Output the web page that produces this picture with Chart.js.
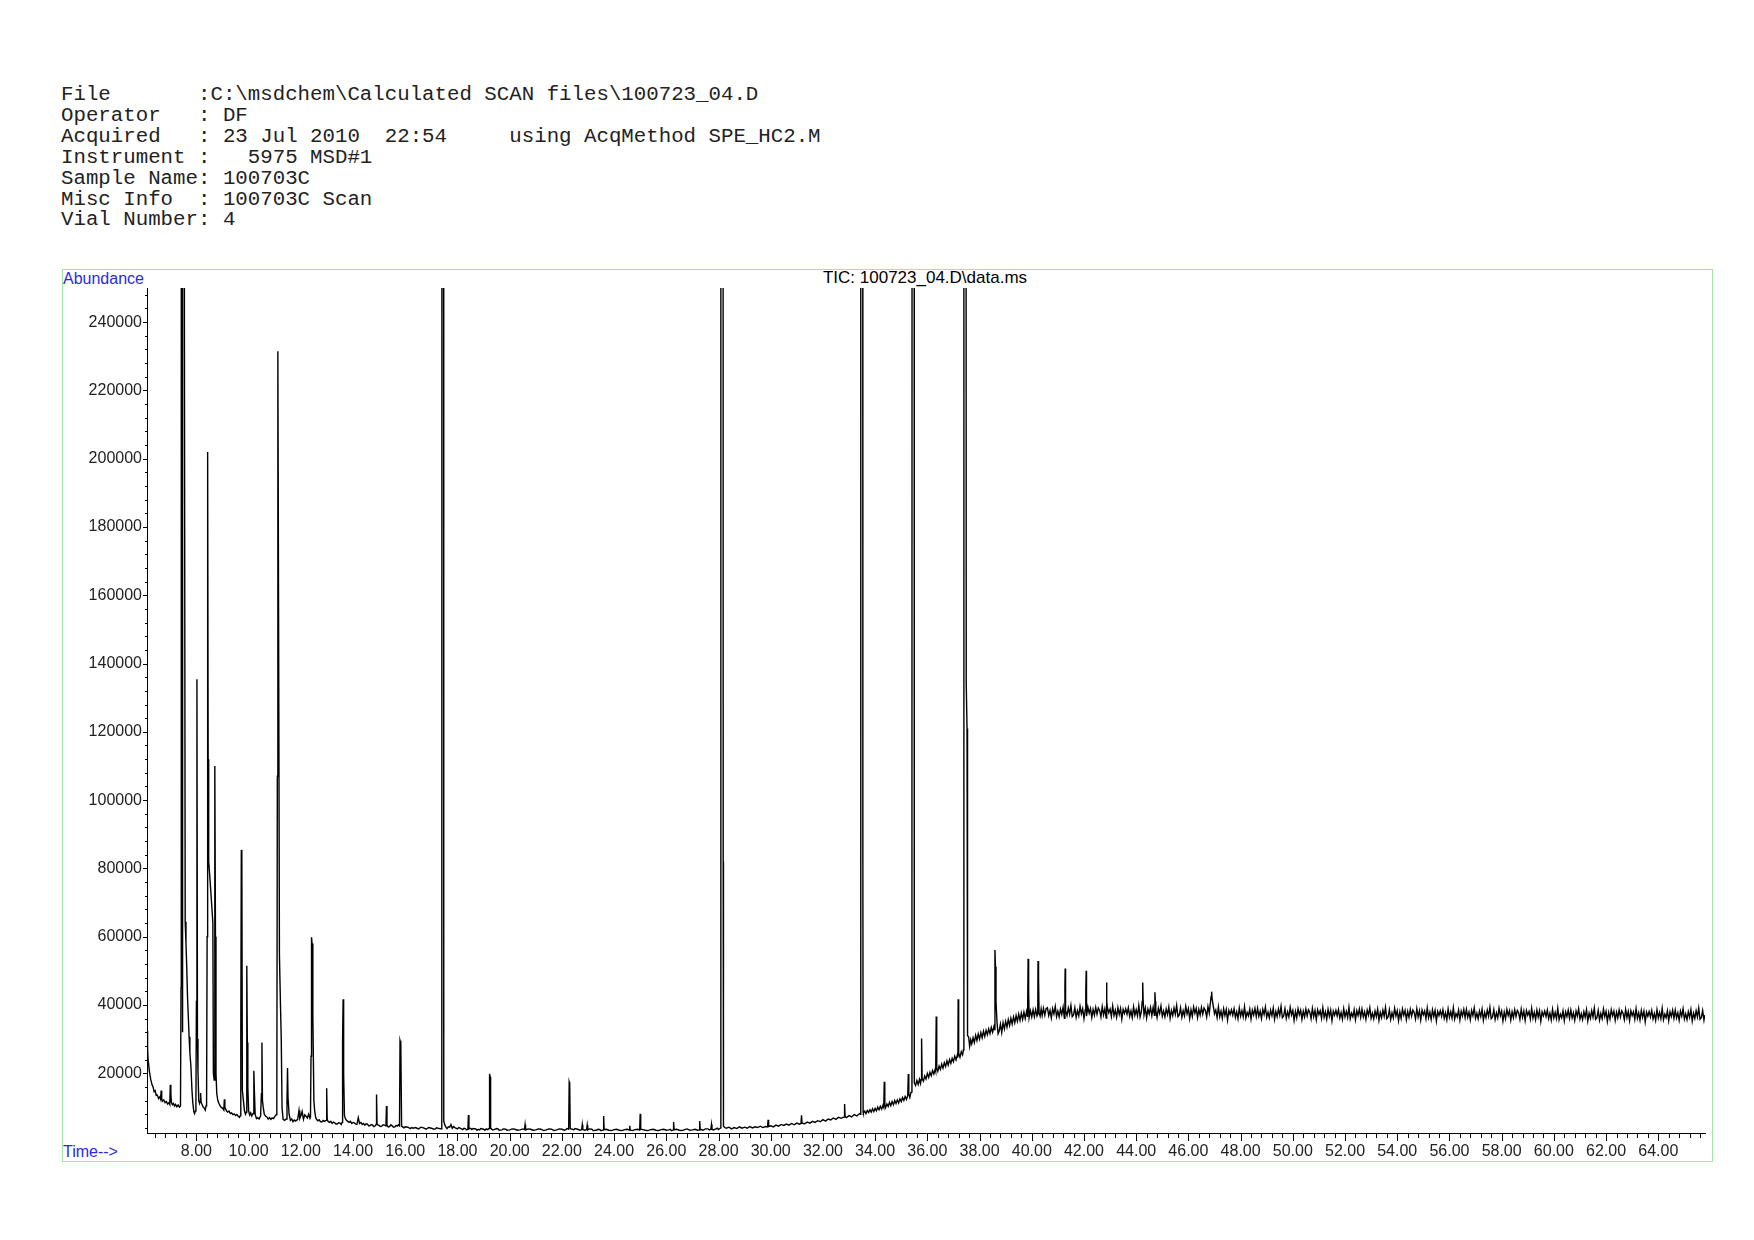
<!DOCTYPE html>
<html>
<head>
<meta charset="utf-8">
<script src="https://cdn.jsdelivr.net/npm/chart.js@4.4.1/dist/chart.umd.min.js"></script>
<style>
  html, body { margin: 0; padding: 0; background: #fff; }
  #page { position: relative; width: 1754px; height: 1240px; overflow: hidden; }
  #header { position: absolute; left: 61px; top: 85px; margin: 0; font-family: 'Liberation Mono', monospace; font-size: 20.75px; line-height: 20.9px; color: #222; }
  #frame { position: absolute; left: 62px; top: 269px; width: 1651px; height: 893px; border: 1px solid #a6e3a6; box-sizing: border-box; }
  .lbl { position: absolute; font-family: 'Liberation Sans', Arial, sans-serif; font-size: 16px; line-height: 18px; white-space: pre; }
  #abund { left: 63px; top: 270px; color: #2b2bd9; }
  #timeLbl { left: 63px; top: 1143px; color: #2b2bd9; }
  #tic { left: 925px; top: 269px; transform: translateX(-50%); color: #000; font-size: 17px; }
  canvas { position: absolute; left: 0; top: 0; }
</style>
</head>
<body>
<div id="page">
  <pre id="header"></pre>
  <div id="frame"></div>
  <div class="lbl" id="abund">Abundance</div>
  <div class="lbl" id="tic">TIC: 100723_04.D\data.ms</div>
  <div class="lbl" id="timeLbl">Time--&gt;</div>
  <canvas id="tic-chart" width="1754" height="1240"></canvas>
</div>
<script>
const headerLines = [
  'File       :C:\\msdchem\\Calculated SCAN files\\100723_04.D',
  'Operator   : DF',
  'Acquired   : 23 Jul 2010  22:54     using AcqMethod SPE_HC2.M',
  'Instrument :   5975 MSD#1',
  'Sample Name: 100703C',
  'Misc Info  : 100703C Scan',
  'Vial Number: 4'
];

// time (min), abundance
const earlyTrace = [
  [6.11, 32400], [6.13, 27000], [6.15, 23900], [6.2, 20500], [6.25, 18200], [6.3, 16600], [6.34, 16000],
  [6.38, 14600], [6.42, 14900], [6.46, 13500], [6.5, 13600], [6.55, 12600], [6.6, 13100], [6.63, 12400],
  [6.65, 14900], [6.67, 12600], [6.7, 11800], [6.75, 12200], [6.8, 11400], [6.85, 11700], [6.9, 11000],
  [6.95, 11400], [6.98, 10900], [7.0, 16600], [7.02, 14200], [7.04, 11500], [7.08, 10800], [7.12, 11200],
  [7.16, 10400], [7.2, 10900], [7.25, 10200], [7.3, 10700], [7.35, 10100], [7.39, 10400],
  [7.41, 45000], [7.42, 600000], [7.455, 600000], [7.465, 32000], [7.475, 600000], [7.53, 600000],
  [7.54, 240000], [7.57, 64400], [7.6, 58000], [7.63, 51000], [7.66, 42000], [7.69, 36500], [7.72, 30700],
  [7.75, 26000], [7.79, 21900], [7.83, 15000], [7.86, 11500], [7.9, 8800], [7.93, 8200], [7.96, 8900],
  [7.98, 9200], [8.0, 41000], [8.02, 135400], [8.04, 30000], [8.06, 20500], [8.09, 12000], [8.12, 11200],
  [8.14, 11800], [8.16, 14200], [8.18, 11500], [8.22, 10800], [8.26, 10100], [8.3, 9800], [8.34, 9200],
  [8.37, 10500], [8.39, 11500], [8.41, 60000], [8.43, 202000], [8.45, 112000], [8.47, 82000], [8.5, 79000],
  [8.53, 75700], [8.58, 70000], [8.63, 64000], [8.65, 20000], [8.68, 18000], [8.7, 40000], [8.71, 110000],
  [8.73, 60000], [8.75, 20000], [8.78, 14000], [8.82, 12000], [8.86, 11200], [8.9, 10600], [8.95, 10000],
  [9.0, 9800], [9.05, 9200], [9.07, 12400], [9.09, 10000], [9.15, 9000], [9.2, 8600], [9.25, 8900],
  [9.3, 8200], [9.35, 8400], [9.4, 7900], [9.45, 8100], [9.5, 7600], [9.55, 7900], [9.6, 7400], [9.65, 7100],
  [9.68, 7600], [9.7, 30000], [9.72, 85400], [9.74, 84500], [9.76, 15000], [9.8, 12000], [9.84, 9000],
  [9.88, 8000], [9.91, 8600], [9.93, 51500], [9.95, 29000], [9.97, 16000], [10.0, 9000], [10.04, 7800],
  [10.08, 8400], [10.12, 7500], [10.17, 8200], [10.2, 20700], [10.22, 15000], [10.25, 8000], [10.3, 6700],
  [10.35, 7000], [10.4, 6600], [10.46, 7500], [10.49, 14000], [10.51, 29000], [10.53, 12000], [10.56, 10000],
  [10.6, 8000], [10.65, 7400], [10.7, 7200], [10.75, 6600], [10.8, 7000], [10.85, 6500], [10.9, 6900],
  [10.95, 6700], [11.0, 7300], [11.05, 7800], [11.08, 8000], [11.1, 107000], [11.12, 231500], [11.15, 147000],
  [11.18, 54600], [11.22, 40000], [11.25, 30000], [11.28, 10000], [11.32, 6500], [11.38, 6200], [11.44, 6600],
  [11.47, 12000], [11.49, 21500], [11.51, 12800], [11.55, 8000], [11.6, 6200], [11.65, 6600], [11.7, 5800],
  [11.75, 6300], [11.8, 6000], [11.88, 6500], [11.93, 9100], [11.96, 6800], [12.0, 7500], [12.05, 8800],
  [12.1, 6500], [12.15, 7800], [12.2, 7400], [12.25, 6900], [12.3, 8000], [12.35, 6800], [12.37, 7200],
  [12.39, 25000], [12.41, 59800], [12.43, 58000], [12.46, 37000], [12.5, 12000], [12.53, 9000], [12.57, 7000],
  [12.6, 6500], [12.65, 6100], [12.7, 6400], [12.75, 5800], [12.8, 5700], [12.85, 6200], [12.9, 5900],
  [12.97, 6200], [12.99, 15600], [13.01, 6500], [13.05, 5800], [13.1, 5600], [13.15, 5900], [13.2, 5300],
  [13.25, 5700], [13.3, 5500], [13.35, 5100], [13.4, 5200], [13.45, 5500], [13.5, 5400], [13.55, 5000],
  [13.58, 5600], [13.6, 30000], [13.62, 41700], [13.64, 20000], [13.67, 7700], [13.7, 6800], [13.75, 6200],
  [13.8, 5900], [13.85, 5600], [13.9, 5900], [13.95, 5300], [14.0, 5600], [14.05, 5500], [14.1, 5100],
  [14.15, 5000], [14.2, 7000], [14.25, 5300], [14.3, 5600], [14.35, 5000], [14.4, 5300], [14.45, 4800],
  [14.5, 5200], [14.55, 5100], [14.6, 4600], [14.65, 4700], [14.7, 5000], [14.75, 4800], [14.8, 4400],
  [14.85, 4600], [14.88, 5000], [14.9, 13800], [14.92, 5200], [14.96, 4800], [15.0, 4700], [15.05, 4400],
  [15.1, 4500], [15.15, 4900], [15.2, 4800], [15.26, 4600], [15.28, 10400], [15.3, 4800], [15.35, 4300],
  [15.4, 4400], [15.45, 4900], [15.5, 4600], [15.55, 4200], [15.6, 4300], [15.65, 4700], [15.7, 4500],
  [15.74, 4900], [15.78, 4600], [15.8, 29500], [15.83, 28500], [15.86, 4500], [15.9, 4300], [15.95, 4000],
  [16.0, 4300], [16.1, 4200], [16.2, 3800], [16.25, 4100], [16.3, 3900], [16.4, 4100], [16.5, 3700],
  [16.55, 3900], [16.6, 4200], [16.7, 4000], [16.8, 3600], [16.85, 3900], [16.9, 4100], [17.0, 3900],
  [17.1, 3600], [17.15, 3700], [17.2, 4000], [17.3, 3800], [17.38, 3700]
];

const midTrace = [
  [17.4, 9000], [17.41, 600000], [17.46, 600000], [17.47, 82000], [17.48, 6000], [17.52, 4800], [17.56, 4200],
  [17.6, 3800], [17.65, 4300], [17.7, 4200], [17.75, 5000], [17.8, 3900], [17.85, 4400], [17.9, 4100],
  [18.0, 3700], [18.05, 4100], [18.1, 3900], [18.2, 3500], [18.25, 3900], [18.3, 3800], [18.35, 3400],
  [18.4, 3600], [18.42, 7800], [18.44, 3700], [18.5, 3900], [18.55, 3500], [18.6, 3800], [18.7, 3700],
  [18.75, 3300], [18.8, 3600], [18.85, 3400], [18.9, 3800], [19.0, 3600], [19.05, 3300], [19.1, 3700],
  [19.15, 3500], [19.21, 3800], [19.23, 19800], [19.25, 19000], [19.27, 4000], [19.3, 3700], [19.35, 3400],
  [19.4, 3500], [19.5, 3800], [19.55, 3700], [19.6, 3300], [19.7, 3400], [19.75, 3700], [19.85, 3600],
  [19.9, 3300], [20.0, 3400], [20.1, 3700], [20.2, 3600], [20.3, 3300], [20.4, 3400], [20.5, 3700],
  [20.57, 3500], [20.59, 4900], [20.61, 3400], [20.7, 3700], [20.8, 3600], [20.9, 3300], [21.0, 3400],
  [21.1, 3700], [21.2, 3600], [21.3, 3200], [21.4, 3400], [21.5, 3700], [21.6, 3600], [21.7, 3200],
  [21.8, 3400], [21.9, 3700], [22.0, 3600], [22.1, 3300], [22.15, 3500], [22.2, 3800], [22.26, 3600],
  [22.28, 17400], [22.3, 16800], [22.32, 3800], [22.4, 3600], [22.45, 3400], [22.5, 3800], [22.6, 3600],
  [22.7, 3300], [22.76, 3500], [22.78, 4900], [22.8, 3500], [22.88, 3300], [22.95, 3500], [22.97, 4800],
  [22.99, 3400], [23.05, 3700], [23.15, 3600], [23.2, 3200], [23.3, 3300], [23.4, 3600], [23.45, 3500],
  [23.5, 3200], [23.58, 3400], [23.6, 7500], [23.62, 3500], [23.7, 3600], [23.8, 3300], [23.9, 3200],
  [24.0, 3500], [24.1, 3600], [24.2, 3300], [24.3, 3200], [24.4, 3500], [24.5, 3600], [24.58, 3400],
  [24.6, 4600], [24.62, 3300], [24.7, 3200], [24.8, 3500], [24.9, 3600], [24.98, 3400], [25.0, 8100],
  [25.02, 3600], [25.1, 3500], [25.2, 3300], [25.3, 3200], [25.4, 3500], [25.5, 3600], [25.6, 3300],
  [25.7, 3200], [25.8, 3500], [25.9, 3600], [26.0, 3300], [26.1, 3400], [26.15, 3600], [26.2, 3200],
  [26.26, 3400], [26.28, 5700], [26.3, 3500], [26.4, 3600], [26.5, 3300], [26.6, 3200], [26.7, 3500],
  [26.8, 3700], [26.9, 3300], [27.0, 3400], [27.1, 3600], [27.2, 3300], [27.26, 3400], [27.28, 6000],
  [27.3, 3600], [27.4, 3300], [27.45, 3500], [27.5, 3700], [27.6, 3700], [27.65, 3400], [27.71, 3600],
  [27.73, 5000], [27.75, 3600], [27.8, 3400], [27.9, 3700], [27.95, 3900], [28.0, 3500], [28.05, 3800],
  [28.08, 4000], [28.09, 600000], [28.17, 600000], [28.18, 82000], [28.19, 4500], [28.24, 4100]
];

const riseTrace = [
  [28.3, 3900], [28.4, 4200], [28.5, 3700], [28.6, 4100], [28.7, 3800], [28.8, 4300], [28.9, 3900],
  [29.0, 4200], [29.1, 3900], [29.2, 4400], [29.3, 4000], [29.4, 4300], [29.5, 4100], [29.6, 4500],
  [29.7, 4100], [29.8, 4400], [29.88, 4300], [29.9, 6400], [29.92, 4400], [30.0, 4600], [30.1, 4300],
  [30.2, 4800], [30.3, 4500], [30.4, 5000], [30.5, 4700], [30.6, 5100], [30.7, 4800], [30.8, 5300],
  [30.9, 4900], [31.0, 5400], [31.1, 5100], [31.16, 5300], [31.18, 7700], [31.2, 5400], [31.3, 5200],
  [31.4, 5700], [31.5, 5400], [31.6, 5900], [31.7, 5600], [31.8, 6100], [31.9, 5800], [32.0, 6400],
  [32.1, 6000], [32.2, 6600], [32.3, 6300], [32.4, 6900], [32.5, 6500], [32.6, 7100], [32.7, 6800],
  [32.81, 7200], [32.83, 11000], [32.85, 7300], [32.9, 7000], [33.0, 7600], [33.1, 7200], [33.2, 7900],
  [33.3, 7500], [33.4, 8200], [33.44, 8000], [33.45, 600000], [33.52, 600000], [33.53, 82000], [33.54, 8600],
  [33.55, 8300], [33.6, 8900], [33.65, 8200], [33.7, 9100], [33.75, 8500], [33.8, 9300], [33.85, 8600],
  [33.9, 9600], [33.95, 8800], [34.0, 9700], [34.05, 9000], [34.1, 10100], [34.15, 9300], [34.2, 10300],
  [34.25, 9500], [34.3, 10600], [34.33, 10000], [34.35, 17500], [34.37, 10700], [34.4, 9900], [34.45, 11000],
  [34.5, 10300], [34.55, 11500], [34.6, 10500], [34.65, 11700], [34.7, 10800], [34.75, 12000], [34.8, 11100],
  [34.85, 12200], [34.9, 11300], [34.95, 12500], [35.0, 11700], [35.05, 12900], [35.1, 12000], [35.15, 13200],
  [35.2, 12300], [35.25, 13500], [35.27, 19800], [35.29, 13900], [35.33, 12900], [35.37, 14300], [35.4, 14500],
  [35.41, 85000], [35.42, 600000], [35.49, 600000], [35.5, 17200], [35.55, 16400], [35.6, 17900], [35.65, 16700],
  [35.7, 18200], [35.74, 17000], [35.76, 18100], [35.78, 30200], [35.8, 18500], [35.85, 17700], [35.9, 19200],
  [35.95, 18300], [36.0, 19900], [36.05, 18800], [36.1, 20300], [36.15, 19300], [36.2, 20800], [36.25, 19800],
  [36.3, 21200], [36.32, 20600], [36.34, 36600], [36.36, 21500], [36.4, 20600], [36.45, 22100], [36.5, 21100],
  [36.55, 22700], [36.6, 21500], [36.65, 23100], [36.7, 22000], [36.75, 23600], [36.8, 22400], [36.85, 24000],
  [36.9, 22900], [36.95, 24400], [37.0, 23400], [37.05, 25000], [37.1, 23900], [37.15, 25400], [37.17, 24600],
  [37.18, 41700], [37.19, 39500], [37.21, 25900], [37.25, 24700], [37.3, 26300], [37.35, 25400], [37.38, 26800],
  [37.4, 600000], [37.47, 600000], [37.49, 134000], [37.52, 121000], [37.54, 31000], [37.58, 30700],
  [37.62, 27900], [37.66, 29800], [37.7, 28600], [37.75, 30400], [37.8, 29000], [37.85, 31100], [37.9, 29600],
  [37.95, 31500], [38.0, 30000], [38.05, 31900], [38.1, 30400], [38.15, 32300], [38.2, 30800], [38.25, 32600],
  [38.3, 31300], [38.35, 33000], [38.4, 31600], [38.45, 33400], [38.5, 32000], [38.55, 33600], [38.57, 32800],
  [38.59, 56100], [38.61, 51200], [38.63, 41000], [38.67, 34700], [38.71, 31600], [38.75, 32300], [38.8, 34400],
  [38.85, 31900], [38.9, 34800], [38.95, 33000], [39.0, 35200], [39.05, 33500], [39.1, 35700], [39.15, 34000],
  [39.2, 36100], [39.25, 34400], [39.3, 36500], [39.35, 34800], [39.4, 36900], [39.45, 35200], [39.5, 37300],
  [39.55, 35500], [39.6, 37600], [39.65, 35800], [39.7, 37900], [39.75, 36000], [39.8, 38100], [39.84, 36500],
  [39.86, 53500], [39.88, 44000], [39.9, 36400], [39.95, 38300], [40.0, 36500], [40.05, 38600], [40.1, 36600],
  [40.15, 38700], [40.2, 36800], [40.23, 37400], [40.24, 52900], [40.26, 47800], [40.28, 37600], [40.32, 36700],
  [40.36, 38900], [40.4, 36900], [40.45, 39000], [40.5, 37000], [40.55, 38900]
];

const plateauTrace = [
  [40.6, 39200], [40.65, 36900], [40.7, 38400], [40.75, 36200], [40.8, 38900], [40.85, 37400], [40.9, 39600], [40.95, 36600],
  [41.0, 38200], [41.05, 36500], [41.1, 38800], [41.15, 37200], [41.2, 39400], [41.25, 36100], [41.27, 45000], [41.28, 50700],
  [41.29, 44000], [41.3, 38400], [41.35, 36900], [41.4, 39100], [41.45, 37300], [41.5, 39900], [41.55, 36600], [41.6, 37100],
  [41.65, 39200], [41.7, 36400], [41.75, 38300], [41.8, 36800], [41.85, 39600], [41.9, 37400], [41.95, 38900],
  [42.0, 36000], [42.05, 38600], [42.07, 44000], [42.085, 50000], [42.095, 42000], [42.1, 36700], [42.15, 39400], [42.2, 37600],
  [42.25, 39000], [42.3, 36300], [42.35, 38700], [42.4, 37000], [42.45, 39300], [42.5, 37300], [42.55, 39100], [42.6, 38400],
  [42.65, 36500], [42.7, 39500], [42.75, 37100], [42.8, 38900], [42.85, 36200], [42.865, 40000], [42.87, 46600], [42.88, 41000],
  [42.9, 39100], [42.95, 37700],
  [43.0, 38800], [43.05, 36600], [43.1, 39700], [43.15, 36900], [43.2, 38500], [43.25, 36400], [43.3, 39200], [43.35, 37200],
  [43.4, 39000], [43.45, 35900], [43.5, 38700], [43.55, 37500], [43.6, 38900], [43.65, 37300], [43.7, 39200], [43.75, 36700],
  [43.8, 38300], [43.85, 36300], [43.9, 39400], [43.95, 37000],
  [44.0, 38600], [44.05, 36800], [44.1, 39800], [44.15, 36500], [44.2, 38100], [44.23, 41000], [44.25, 46600], [44.265, 41500],
  [44.3, 37100], [44.35, 39100], [44.4, 36200], [44.45, 38800], [44.5, 37400], [44.55, 39300], [44.6, 36900], [44.65, 39300],
  [44.7, 37000], [44.715, 40000], [44.72, 43700], [44.735, 41000], [44.75, 38500], [44.8, 36300], [44.85, 39000], [44.9, 37500],
  [44.95, 39700],
  [45.0, 36700], [45.05, 38200], [45.1, 36500], [45.15, 38800], [45.2, 37200], [45.25, 39400], [45.3, 36100], [45.35, 38400],
  [45.4, 36900], [45.45, 39100], [45.5, 37300], [45.55, 39900], [45.6, 36600], [45.65, 37100], [45.7, 39200], [45.75, 36400],
  [45.8, 38300], [45.85, 36800], [45.9, 39600], [45.95, 37400],
  [46.0, 38900], [46.05, 36000], [46.1, 38600], [46.15, 36700], [46.2, 39400], [46.25, 37600], [46.3, 39000], [46.35, 36300],
  [46.4, 38700], [46.45, 37000], [46.5, 39300], [46.55, 37300], [46.6, 39100], [46.65, 38400], [46.7, 36500], [46.75, 39500],
  [46.8, 37600], [46.84, 40500], [46.87, 42500], [46.89, 43900], [46.91, 41800], [46.95, 39800],
  [47.0, 37400], [47.05, 38500], [47.1, 36300], [47.15, 39400], [47.2, 36600], [47.25, 38200], [47.3, 36100], [47.35, 38900],
  [47.4, 36900], [47.45, 38700], [47.5, 35600], [47.55, 38400], [47.6, 37200], [47.65, 38600], [47.7, 37000], [47.75, 38900],
  [47.8, 36400], [47.85, 38000], [47.9, 36000], [47.95, 39100],
  [48.0, 36700], [48.05, 38300], [48.1, 36500], [48.15, 39500], [48.2, 36200], [48.25, 37800], [48.3, 36800], [48.35, 38800],
  [48.4, 35900], [48.45, 38500], [48.5, 37100], [48.55, 39000], [48.6, 36600], [48.65, 39000], [48.7, 36700], [48.75, 38200],
  [48.8, 36000], [48.85, 38700], [48.9, 37200], [48.95, 39400],
  [49.0, 36400], [49.05, 37900], [49.1, 36200], [49.15, 38500], [49.2, 36900], [49.25, 39100], [49.3, 35800], [49.35, 38100],
  [49.4, 36600], [49.45, 38800], [49.5, 37000], [49.55, 39600], [49.6, 36300], [49.65, 36800], [49.7, 38900], [49.75, 36100],
  [49.8, 38000], [49.85, 36500], [49.9, 39300], [49.95, 37100],
  [50.0, 38400], [50.05, 35500], [50.1, 38100], [50.15, 36200], [50.2, 38900], [50.25, 37100], [50.3, 38500], [50.35, 35800],
  [50.4, 38200], [50.45, 36500], [50.5, 38800], [50.55, 36800], [50.6, 38600], [50.65, 37900], [50.7, 36000], [50.75, 39000],
  [50.8, 36600], [50.85, 38400], [50.9, 35700], [50.95, 38600],
  [51.0, 37200], [51.05, 38300], [51.1, 36100], [51.15, 39200], [51.2, 36400], [51.25, 38000], [51.3, 35900], [51.35, 38700],
  [51.4, 36700], [51.45, 38500], [51.5, 35400], [51.55, 38200], [51.6, 37000], [51.65, 38400], [51.7, 36800], [51.75, 38700],
  [51.8, 36200], [51.85, 37800], [51.9, 35800], [51.95, 38900],
  [52.0, 36500], [52.05, 38100], [52.1, 36300], [52.15, 39300], [52.2, 36000], [52.25, 37600], [52.3, 36600], [52.35, 38600],
  [52.4, 35700], [52.45, 38300], [52.5, 36900], [52.55, 38800], [52.6, 36400], [52.65, 38800], [52.7, 36500], [52.75, 38000],
  [52.8, 35800], [52.85, 38500], [52.9, 37000], [52.95, 39200],
  [53.0, 36100], [53.05, 37600], [53.1, 35900], [53.15, 38200], [53.2, 36600], [53.25, 38800], [53.3, 35500], [53.35, 37800],
  [53.4, 36300], [53.45, 38500], [53.5, 36700], [53.55, 39300], [53.6, 36000], [53.65, 36500], [53.7, 38600], [53.75, 35800],
  [53.8, 37700], [53.85, 36200], [53.9, 39000], [53.95, 36800],
  [54.0, 38300], [54.05, 35400], [54.1, 38000], [54.15, 36100], [54.2, 38800], [54.25, 37000], [54.3, 38400], [54.35, 35700],
  [54.4, 38100], [54.45, 36400], [54.5, 38700], [54.55, 36700], [54.6, 38500], [54.65, 37800], [54.7, 35900], [54.75, 38900],
  [54.8, 36500], [54.85, 38300], [54.9, 35600], [54.95, 38500],
  [55.0, 37100], [55.05, 38200], [55.1, 36000], [55.15, 39100], [55.2, 36300], [55.25, 37900], [55.3, 35800], [55.35, 38600],
  [55.4, 36600], [55.45, 38400], [55.5, 35300], [55.55, 38100], [55.6, 36900], [55.65, 38300], [55.7, 36700], [55.75, 38600],
  [55.8, 36100], [55.85, 37700], [55.9, 35700], [55.95, 38800],
  [56.0, 36400], [56.05, 38000], [56.1, 36200], [56.15, 39200], [56.2, 35900], [56.25, 37500], [56.3, 36500], [56.35, 38500],
  [56.4, 35600], [56.45, 38200], [56.5, 36800], [56.55, 38700], [56.6, 36300], [56.65, 38700], [56.7, 36400], [56.75, 37900],
  [56.8, 35700], [56.85, 38400], [56.9, 36900], [56.95, 39100],
  [57.0, 36100], [57.05, 37600], [57.1, 35900], [57.15, 38200], [57.2, 36600], [57.25, 38800], [57.3, 35500], [57.35, 37800],
  [57.4, 36300], [57.45, 38500], [57.5, 36700], [57.55, 39300], [57.6, 36000], [57.65, 36500], [57.7, 38600], [57.75, 35800],
  [57.8, 37700], [57.85, 36200], [57.9, 39000], [57.95, 36800],
  [58.0, 38200], [58.05, 35300], [58.1, 37900], [58.15, 36000], [58.2, 38700], [58.25, 36900], [58.3, 38300], [58.35, 35600],
  [58.4, 38000], [58.45, 36300], [58.5, 38600], [58.55, 36600], [58.6, 38400], [58.65, 37700], [58.7, 35800], [58.75, 38800],
  [58.8, 36400], [58.85, 38200], [58.9, 35500], [58.95, 38400],
  [59.0, 37000], [59.05, 38100], [59.1, 35900], [59.15, 39000], [59.2, 36200], [59.25, 37800], [59.3, 35700], [59.35, 38500],
  [59.4, 36500], [59.45, 38300], [59.5, 35200], [59.55, 38000], [59.6, 36800], [59.65, 38200], [59.7, 36600], [59.75, 38500],
  [59.8, 36000], [59.85, 37600], [59.9, 35600], [59.95, 38700],
  [60.0, 36200], [60.05, 37800], [60.1, 36000], [60.15, 39000], [60.2, 35700], [60.25, 37300], [60.3, 36300], [60.35, 38300],
  [60.4, 35400], [60.45, 38000], [60.5, 36600], [60.55, 38500], [60.6, 36100], [60.65, 38500], [60.7, 36200], [60.75, 37700],
  [60.8, 35500], [60.85, 38200], [60.9, 36700], [60.95, 38900],
  [61.0, 35900], [61.05, 37400], [61.1, 35700], [61.15, 38000], [61.2, 36400], [61.25, 38600], [61.3, 35300], [61.35, 37600],
  [61.4, 36100], [61.45, 38300], [61.5, 36500], [61.55, 39100], [61.6, 35800], [61.65, 36300], [61.7, 38400], [61.75, 35600],
  [61.8, 37500], [61.85, 36000], [61.9, 38800], [61.95, 36600],
  [62.0, 38100], [62.05, 35200], [62.1, 37800], [62.15, 35900], [62.2, 38600], [62.25, 36800], [62.3, 38200], [62.35, 35500],
  [62.4, 37900], [62.45, 36200], [62.5, 38500], [62.55, 36500], [62.6, 38300], [62.65, 37600], [62.7, 35700], [62.75, 38700],
  [62.8, 36300], [62.85, 38100], [62.9, 35400], [62.95, 38300],
  [63.0, 36900], [63.05, 38000], [63.1, 35800], [63.15, 38900], [63.2, 36100], [63.25, 37700], [63.3, 35600], [63.35, 38400],
  [63.4, 36400], [63.45, 38200], [63.5, 35100], [63.55, 37900], [63.6, 36700], [63.65, 38100], [63.7, 36500], [63.75, 38400],
  [63.8, 35900], [63.85, 37500], [63.9, 35500], [63.95, 38600],
  [64.0, 36200], [64.05, 37800], [64.1, 36000], [64.15, 39000], [64.2, 35700], [64.25, 37300], [64.3, 36300], [64.35, 38300],
  [64.4, 35400], [64.45, 38000], [64.5, 36600], [64.55, 38500], [64.6, 36100], [64.65, 38500], [64.7, 36200], [64.75, 37700],
  [64.8, 35500], [64.85, 38200], [64.9, 36700], [64.95, 38900],
  [65.0, 35900], [65.05, 37400], [65.1, 35700], [65.15, 38000], [65.2, 36400], [65.25, 38600], [65.3, 35300], [65.35, 37600],
  [65.4, 36100], [65.45, 38300], [65.5, 36500], [65.55, 39100], [65.6, 35800], [65.65, 36300], [65.7, 38400], [65.75, 35600],
  [65.78, 37000]
];

const xTickLabels = [8, 10, 12, 14, 16, 18, 20, 22, 24, 26, 28, 30, 32, 34, 36, 38, 40, 42, 44, 46, 48, 50, 52, 54, 56, 58, 60, 62, 64];
const yTickLabels = [20000, 40000, 60000, 80000, 100000, 120000, 140000, 160000, 180000, 200000, 220000, 240000];
const timeRange = [6.107, 65.79];
const abundanceRange = [2500, 250000];
const xMinorStep = 0.4;
const yMinorStep = 4000;

document.getElementById('header').textContent = headerLines.join('\n');

const trace = [...earlyTrace, ...midTrace, ...riseTrace, ...plateauTrace].map(([x, y]) => ({ x, y }));

// small tick marks (long at labelled values, short in between)
const tickMarks = {
  id: 'tickMarks',
  afterDraw(chart) {
    const { ctx, chartArea } = chart;
    const xs = chart.scales.x;
    const ys = chart.scales.y;
    ctx.save();
    ctx.strokeStyle = '#000';
    ctx.lineWidth = 1;
    ctx.beginPath();
    for (let i = 1; i * xMinorStep <= xs.max; i++) {
      const t = +(i * xMinorStep).toFixed(1);
      if (t < xs.min) continue;
      const px = Math.round(xs.getPixelForValue(t)) + 0.5;
      const len = xTickLabels.includes(t) ? 8 : 5;
      ctx.moveTo(px, chartArea.bottom);
      ctx.lineTo(px, chartArea.bottom + len);
    }
    for (let v = yMinorStep; v <= ys.max; v += yMinorStep) {
      if (v < ys.min) continue;
      const py = Math.round(ys.getPixelForValue(v)) + 0.5;
      const len = yTickLabels.includes(v) ? 4 : 2;
      ctx.moveTo(chartArea.left, py);
      ctx.lineTo(chartArea.left - len, py);
    }
    ctx.stroke();
    ctx.restore();
  }
};

Chart.defaults.font.family = "'Liberation Sans', Arial, sans-serif";

new Chart(document.getElementById('tic-chart'), {
  type: 'line',
  data: {
    datasets: [{
      data: trace,
      borderColor: '#000',
      borderWidth: 1.4,
      pointRadius: 0,
      tension: 0,
      fill: false
    }]
  },
  options: {
    responsive: false,
    animation: false,
    events: [],
    layout: { padding: { top: 288, right: 49, left: 0, bottom: 0 } },
    plugins: { legend: { display: false }, tooltip: { enabled: false } },
    scales: {
      x: {
        type: 'linear',
        min: timeRange[0],
        max: timeRange[1],
        afterBuildTicks: axis => { axis.ticks = xTickLabels.map(v => ({ value: v })); },
        afterFit: axis => { axis.height = 107; },
        grid: { display: false, drawTicks: false },
        border: { display: true, color: '#000', width: 1 },
        ticks: {
          autoSkip: false, maxRotation: 0, minRotation: 0, padding: 9,
          color: '#222', font: { size: 16 },
          callback: v => v.toFixed(2)
        }
      },
      y: {
        type: 'linear',
        min: abundanceRange[0],
        max: abundanceRange[1],
        afterBuildTicks: axis => { axis.ticks = yTickLabels.map(v => ({ value: v })); },
        afterFit: axis => { axis.width = 147; },
        grid: { display: false, drawTicks: false },
        border: { display: true, color: '#000', width: 1 },
        ticks: {
          autoSkip: false, padding: 5,
          color: '#222', font: { size: 16 },
          callback: v => String(v)
        }
      }
    }
  },
  plugins: [tickMarks]
});
</script>
</body>
</html>
